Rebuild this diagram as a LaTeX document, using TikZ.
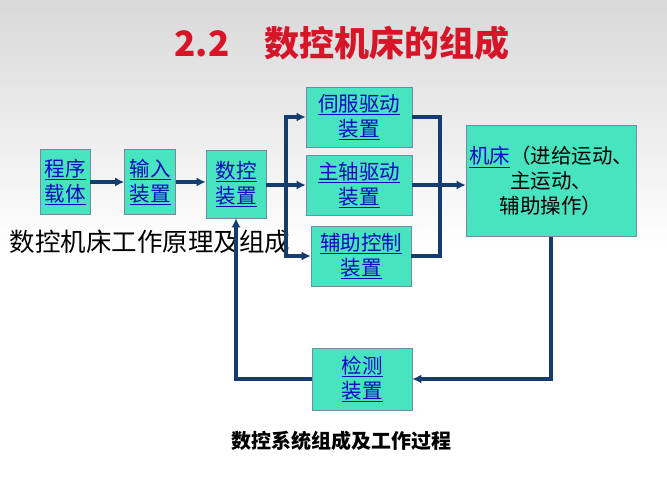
\documentclass[tikz,border=0pt]{standalone}
\usepackage{fontspec}
\newfontfamily\cjk{Noto Sans CJK SC}
\usetikzlibrary{arrows.meta}
\definecolor{boxfill}{RGB}{72,228,192}
\definecolor{linkblue}{RGB}{10,10,190}
\definecolor{flowline}{RGB}{20,60,110}
\definecolor{titlered}{RGB}{215,20,40}

\begin{document}
\begin{tikzpicture}[x=1pt,y=-1pt]

    % --- Styles ---
    \tikzset{
        unit/.style={
            draw=flowline!60, 
            fill=boxfill, 
            line width=0.6pt, 
            font=\cjk\fontsize{20.5}{25}\selectfont, 
            text=linkblue, 
            align=center, 
            inner sep=0pt
        },
        flow/.style={
            draw=flowline, 
            line width=3.2pt, 
            -{Latex[length=9pt, width=9pt]}
        },
        plain/.style={
            draw=flowline, 
            line width=3.2pt
        }
    }

    % --- Hintergrund ---
    \shade[top color=gray!30, bottom color=white, middle color=white] (0,0) rectangle (667,500);
    \useasboundingbox (0,0) rectangle (667,500);

    % --- Titel ---
    \node[text=titlered, font=\cjk\bfseries\fontsize{35}{40}\selectfont] (title) at (342,43) {2.2\quad 数控机床的组成};

    % --- Blöcke ---
    \node[unit, minimum width=50, minimum height=65] (carrier) at (65,182) {\underline{程序}\\\underline{载体}};
    \node[unit, minimum width=51, minimum height=65] (input) at (150,182) {\underline{输入}\\\underline{装置}};
    \node[unit, minimum width=60, minimum height=68] (cnc) at (236,184) {\underline{数控}\\\underline{装置}};
    \node[unit, minimum width=106, minimum height=60] (servo) at (359,117) {\underline{伺服驱动}\\\underline{装置}};
    \node[unit, minimum width=106, minimum height=60] (spindle) at (359,185) {\underline{主轴驱动}\\\underline{装置}};
    \node[unit, minimum width=100, minimum height=60] (aux) at (361,256) {\underline{辅助控制}\\\underline{装置}};
    \node[unit, minimum width=170, minimum height=111, text=black] (machine) at (551,181) {\textcolor{linkblue}{\underline{机床}}（进给运动、\\主运动、\\辅助操作）};
    \node[unit, minimum width=100, minimum height=62] (detect) at (362,379) {\underline{检测}\\\underline{装置}};

    % --- Beschriftungen ---
    \node[anchor=west, font=\cjk\fontsize{25.5}{30}\selectfont] (subtitle) at (6,242) {数控机床工作原理及组成};
    \node[font=\cjk\bfseries\fontsize{20}{24}\selectfont] (caption) at (341,441) {数控系统组成及工作过程};

    % --- Verbindungen ---
    \coordinate (split) at (286,185);
    \coordinate (merge) at (440,185);
    \draw[flow] (carrier) -- (input);
    \draw[flow] (input) -- (cnc.west |- input);
    \draw[plain] (cnc.east |- split) -- (split);
    \draw[flow] (split) |- (servo.west);
    \draw[flow] (split) -- (spindle.west);
    \draw[flow] (split) |- (aux.west);
    \draw[plain] (servo.east) -| (merge);
    \draw[plain] (aux.east) -| (merge);
    \draw[flow] (spindle.east) -- (merge) -- (machine.west |- merge);
    \draw[flow] (machine.south) |- (detect.east);
    \draw[flow] (detect.west) -| (cnc.south);

\end{tikzpicture}
\end{document}
